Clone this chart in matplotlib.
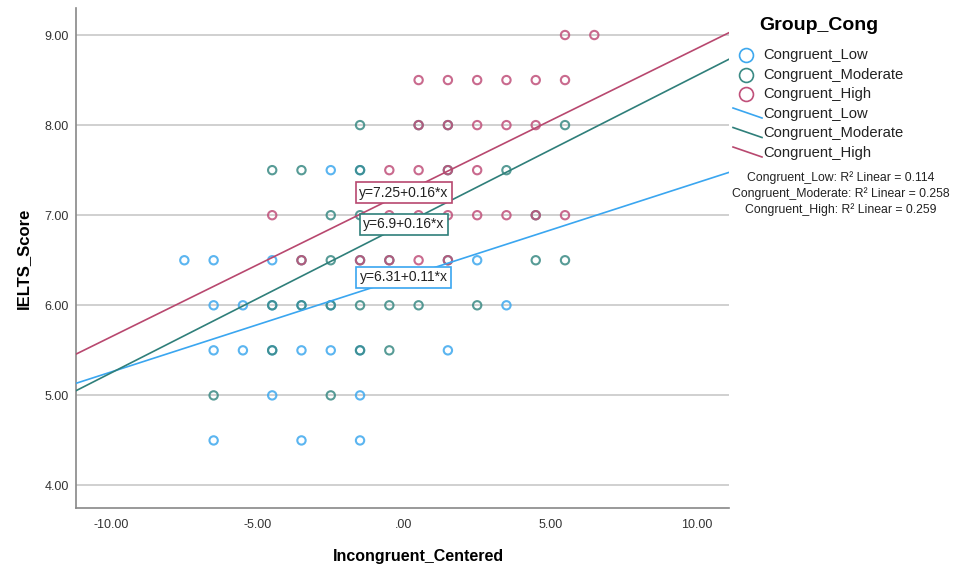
import numpy as np
import matplotlib
matplotlib.use("Agg")
import matplotlib.pyplot as plt
from matplotlib.lines import Line2D

plt.rcParams['font.family'] = ['Liberation Sans', 'DejaVu Sans']

groups = ["Congruent_Low", "Congruent_Moderate", "Congruent_High"]
point_colors = ["#3ea8ee", "#3a8a84", "#c0507a"]
line_colors = ["#3aa6f0", "#2f7f7a", "#b8486f"]

# points (x = Incongruent_Centered, y = IELTS_Score)
low_x = [-7.5, -6.5, -4.5, -2.5, -1.5, 2.5,
         -6.5, -5.5, -4.5, -3.5, -2.5, 3.5,
         -6.5, -5.5, -4.5, -3.5, -2.5, -1.5, 1.5,
         -4.5, -1.5,
         -6.5, -3.5, -1.5]
low_y = [6.5, 6.5, 6.5, 7.5, 7.5, 6.5,
         6.0, 6.0, 6.0, 6.0, 6.0, 6.0,
         5.5, 5.5, 5.5, 5.5, 5.5, 5.5, 5.5,
         5.0, 5.0,
         4.5, 4.5, 4.5]

mod_x = [-1.5, 0.5, 1.5, 5.5,
         -4.5, -3.5, -1.5, 1.5, 3.5,
         -2.5, -1.5, 4.5,
         -3.5, -2.5, -1.5, -0.5, 1.5, 4.5, 5.5,
         -4.5, -3.5, -2.5, -1.5, -0.5, 0.5, 2.5,
         -4.5, -1.5, -0.5,
         -6.5, -2.5]
mod_y = [8.0, 8.0, 8.0, 8.0,
         7.5, 7.5, 7.5, 7.5, 7.5,
         7.0, 7.0, 7.0,
         6.5, 6.5, 6.5, 6.5, 6.5, 6.5, 6.5,
         6.0, 6.0, 6.0, 6.0, 6.0, 6.0, 6.0,
         5.5, 5.5, 5.5,
         5.0, 5.0]

high_x = [5.5, 6.5,
          0.5, 1.5, 2.5, 3.5, 4.5, 5.5,
          0.5, 1.5, 2.5, 3.5, 4.5,
          -0.5, 0.5, 1.5, 2.5,
          -4.5, -0.5, 0.5, 1.5, 2.5, 3.5, 4.5, 5.5,
          -3.5, -1.5, -0.5, 0.5, 1.5]
high_y = [9.0, 9.0,
          8.5, 8.5, 8.5, 8.5, 8.5, 8.5,
          8.0, 8.0, 8.0, 8.0, 8.0,
          7.5, 7.5, 7.5, 7.5,
          7.0, 7.0, 7.0, 7.0, 7.0, 7.0, 7.0, 7.0,
          6.5, 6.5, 6.5, 6.5, 6.5]

# fit lines
intercepts = [6.31, 6.9, 7.25]
slopes = [0.105, 0.165, 0.16]
eq_labels = ["y=6.31+0.11*x", "y=6.9+0.16*x", "y=7.25+0.16*x"]
r2_labels = ["0.114", "0.258", "0.259"]

xs = [low_x, mod_x, high_x]
ys = [low_y, mod_y, high_y]

W, H = 956, 570
fig = plt.figure(figsize=(W / 100, H / 100), dpi=100)
ax = fig.add_axes([76 / W, 1 - 508 / H, (729 - 76) / W, (508 - 8) / H])

xlim = (-11.2, 11.1)
ax.set_xlim(*xlim)
ax.set_ylim(3.75, 9.3)

for i in range(3):
    ax.scatter(xs[i], ys[i], s=36, facecolors="none", edgecolors=point_colors[i],
               linewidths=1.5, alpha=0.85, zorder=3)

xl = np.array(xlim)
for i in range(3):
    ax.plot(xl, intercepts[i] + slopes[i] * xl, color=line_colors[i], lw=1.2, zorder=4)

for i in range(3):
    ax.text(0, intercepts[i], eq_labels[i], ha="center", va="center", fontsize=10,
            color="#222222", zorder=6,
            bbox=dict(boxstyle="square,pad=0.25", fc="white", ec=line_colors[i], lw=1.2))

ax.set_xticks([-10, -5, 0, 5, 10])
ax.set_xticklabels(["-10.00", "-5.00", ".00", "5.00", "10.00"])
ax.set_yticks([4, 5, 6, 7, 8, 9])
ax.set_yticklabels(["4.00", "5.00", "6.00", "7.00", "8.00", "9.00"])
ax.yaxis.grid(True, color="#d0d0d0", lw=1.4, zorder=0)
ax.set_axisbelow(True)
ax.tick_params(axis="x", labelsize=9, colors="#333333", length=0, pad=8)
ax.tick_params(axis="y", labelsize=9, colors="#333333", length=0, pad=5)
for s in ["top", "right"]:
    ax.spines[s].set_visible(False)
for s in ["left", "bottom"]:
    ax.spines[s].set_color("#888888")
    ax.spines[s].set_linewidth(1.2)

ax.set_xlabel("Incongruent_Centered", fontsize=11.5, fontweight="bold")
ax.xaxis.set_label_coords((418 - 76) / 653, -0.083)
ax.set_ylabel("IELTS_Score", fontsize=12, fontweight="bold", labelpad=10)


def px(x, y):
    return x / W, 1 - y / H


# legend
fig.text(*px(759, 25), "Group_Cong", fontsize=14, fontweight="bold", va="center")
for i in range(3):
    y0 = 55 + i * 19.5
    fig.add_artist(Line2D([px(746, y0)[0]], [px(746, y0)[1]], marker="o", ms=10,
                          mfc="none", mec=point_colors[i], mew=1.2,
                          transform=fig.transFigure))
    fig.text(*px(763, y0), groups[i], fontsize=10.6, va="center", color="#222222")
for i in range(3):
    y0 = 114 + i * 19.5
    a = px(733, y0 - 6)
    b = px(762, y0 + 4)
    fig.add_artist(Line2D([a[0], b[0]], [a[1], b[1]], color=line_colors[i], lw=1.2,
                          transform=fig.transFigure))
    fig.text(*px(763, y0), groups[i], fontsize=10.6, va="center", color="#222222")
for i in range(3):
    fig.text(*px(841, 178 + i * 16), groups[i] + ": R\u00b2 Linear = " + r2_labels[i],
             fontsize=8.8, ha="center", va="center", color="#222222")

fig.savefig("out.png", dpi=100)
